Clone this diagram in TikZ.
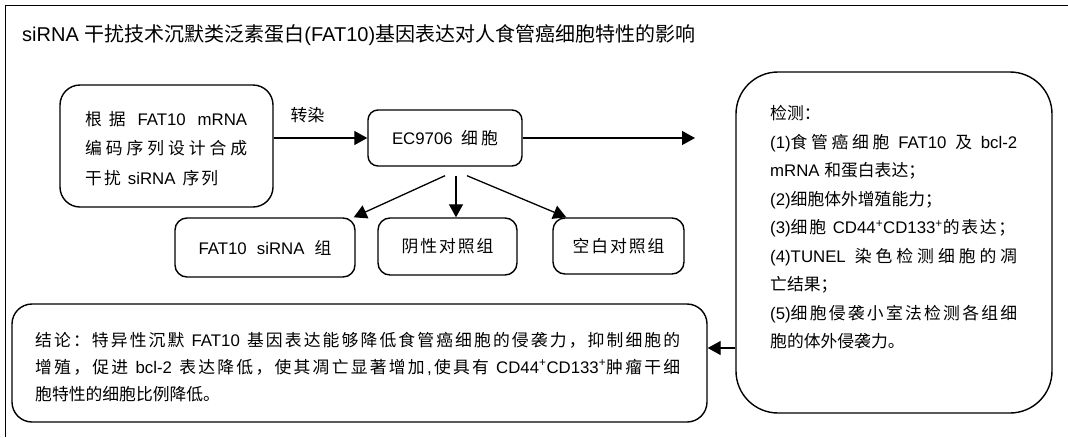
\documentclass[tikz,border=0pt]{standalone}
\usepackage{fontspec}
\setmainfont{Liberation Sans}
\newfontfamily\cjkf{Noto Sans CJK SC}
\newfontfamily\latf{Liberation Sans}
\usetikzlibrary{arrows.meta}

% Character classes: ideographs = 1, closing punctuation = 3, ")" = 5
\newcount\cjkc
\cjkc="4E00
\loop \XeTeXcharclass\cjkc=1 \ifnum\cjkc<"9FFF \advance\cjkc by 1 \repeat
\XeTeXcharclass"FF0C=3 \XeTeXcharclass"FF1A=3 \XeTeXcharclass"FF1B=3 \XeTeXcharclass"3002=3
\XeTeXcharclass`\)=5
\XeTeXinterchartokenstate=1
% stretchable gap between characters, used for justified lines
\newcommand\cg{\hskip0pt plus 1fil\relax}
\XeTeXinterchartoks 4095 1 = {\cjkf}
\XeTeXinterchartoks 4095 3 = {\cjkf}
\XeTeXinterchartoks 4095 0 = {\latf}
\XeTeXinterchartoks 4095 5 = {\latf}
\XeTeXinterchartoks 0 1 = {\cjkf\cg}
\XeTeXinterchartoks 0 3 = {\cjkf\cg}
\XeTeXinterchartoks 5 1 = {\cjkf}
\XeTeXinterchartoks 1 0 = {\cg\latf}
\XeTeXinterchartoks 1 5 = {\latf}
\XeTeXinterchartoks 3 0 = {\cg\latf}
\XeTeXinterchartoks 1 1 = {\cg}
\XeTeXinterchartoks 1 3 = {\cg}
\XeTeXinterchartoks 3 1 = {\cg}

\newcommand\jl[2]{\makebox[#1pt][s]{\spaceskip=0.3em plus 1fil\relax #2}}
\newcommand\lline[1]{\hbox{#1}}
\newcommand\stack[2]{\vtop{\baselineskip=#1pt\lineskiplimit=-50pt\lineskip=0pt #2}}
\newcommand\sps{\textsuperscript{+}}

\tikzset{
  boxr/.style={draw, line width=1.4pt, rounded corners=#1, inner sep=0pt},
  txt/.style={inner sep=0pt, font=\fontsize{16.8}{20}\selectfont},
  arr/.style={line width=1.3pt, -{Triangle[length=13pt,width=14pt]}}
}

\begin{document}
\begin{tikzpicture}[x=1pt,y=-1pt]
\useasboundingbox (0,0) rectangle (1068,437);
\draw[line width=0.9pt] (5,437) -- (5,5) -- (1068,5);

\node[anchor=base west, inner sep=0pt, font=\fontsize{20}{24}\selectfont] (title) at (22,41)
  {siRNA 干扰技术沉默类泛素蛋白(FAT10)基因表达对人食管癌细胞特性的影响};

% design box
\node[boxr=20pt, minimum width=213pt, minimum height=122pt] (src) at (166.5,146) {};
\node[txt, anchor=base west] (srctxt) at (85,125) {\stack{29.5}{%
  \lline{\jl{162}{根据 FAT10 mRNA}}%
  \lline{\jl{162}{编码序列设计合成}}%
  \lline{\jl{133}{干扰 siRNA 序列}}}};

% cell line
\node[boxr=10pt, txt, minimum width=154pt, minimum height=56pt] (ec) at (445,138) {\jl{106}{EC9706 细胞}};
\node[txt] (lab) at (307.5,115) {转染};

% groups
\node[boxr=12pt, txt, minimum width=180pt, minimum height=59pt] (fat) at (265,247.5) {\jl{133}{FAT10 siRNA 组}};
\node[boxr=12pt, txt, minimum width=139pt, minimum height=57pt] (neg) at (447.5,246.5) {\jl{92}{阴性对照组}};
\node[boxr=12pt, txt, minimum width=131pt, minimum height=56pt] (blank) at (618.5,246) {\jl{92}{空白对照组}};

% detection box
\node[boxr=42pt, minimum width=316pt, minimum height=341pt] (det) at (894,242.5) {};
\node[txt, anchor=base west] (dettxt) at (770,119.5) {\stack{28.55}{%
  \lline{检测：}%
  \lline{\jl{247}{(1)食管癌细胞 FAT10 及 bcl-2}}%
  \lline{mRNA 和蛋白表达；}%
  \lline{(2)细胞体外增殖能力；}%
  \lline{\jl{245}{(3)细胞 CD44\sps CD133\sps 的表达；}}%
  \lline{\jl{247}{(4)TUNEL 染色检测细胞的凋}}%
  \lline{亡结果；}%
  \lline{\jl{247}{(5)细胞侵袭小室法检测各组细}}%
  \lline{胞的体外侵袭力。}}};

% conclusion box
\node[boxr=20pt, minimum width=695pt, minimum height=118pt] (con) at (359.5,363) {};
\node[txt, anchor=base west] (contxt) at (35,346) {\stack{27}{%
  \lline{\jl{645}{结论：特异性沉默 FAT10 基因表达能够降低食管癌细胞的侵袭力，抑制细胞的}}%
  \lline{\jl{645}{增殖，促进 bcl-2 表达降低，使其凋亡显著增加,使具有 CD44\sps CD133\sps 肿瘤干细}}%
  \lline{胞特性的细胞比例降低。}}};

% connectors
\draw[arr] (ec.west -| src.east) -- (ec.west);
\coordinate (out) at (695,138);
\draw[arr] (ec.east) -- (out);
\draw[arr] ([yshift=-9pt]ec.south) -- ([xshift=-2pt]fat.north east);
\draw[arr] ([xshift=11pt,yshift=-9pt]ec.south) -- ([xshift=8.5pt]neg.north);
\draw[arr] ([xshift=22pt,yshift=-9pt]ec.south) -- ([xshift=14pt]blank.north west);
\coordinate (fb) at (720,348);
\draw[arr] (fb -| det.west) -- (fb -| con.east);
\end{tikzpicture}
\end{document}
